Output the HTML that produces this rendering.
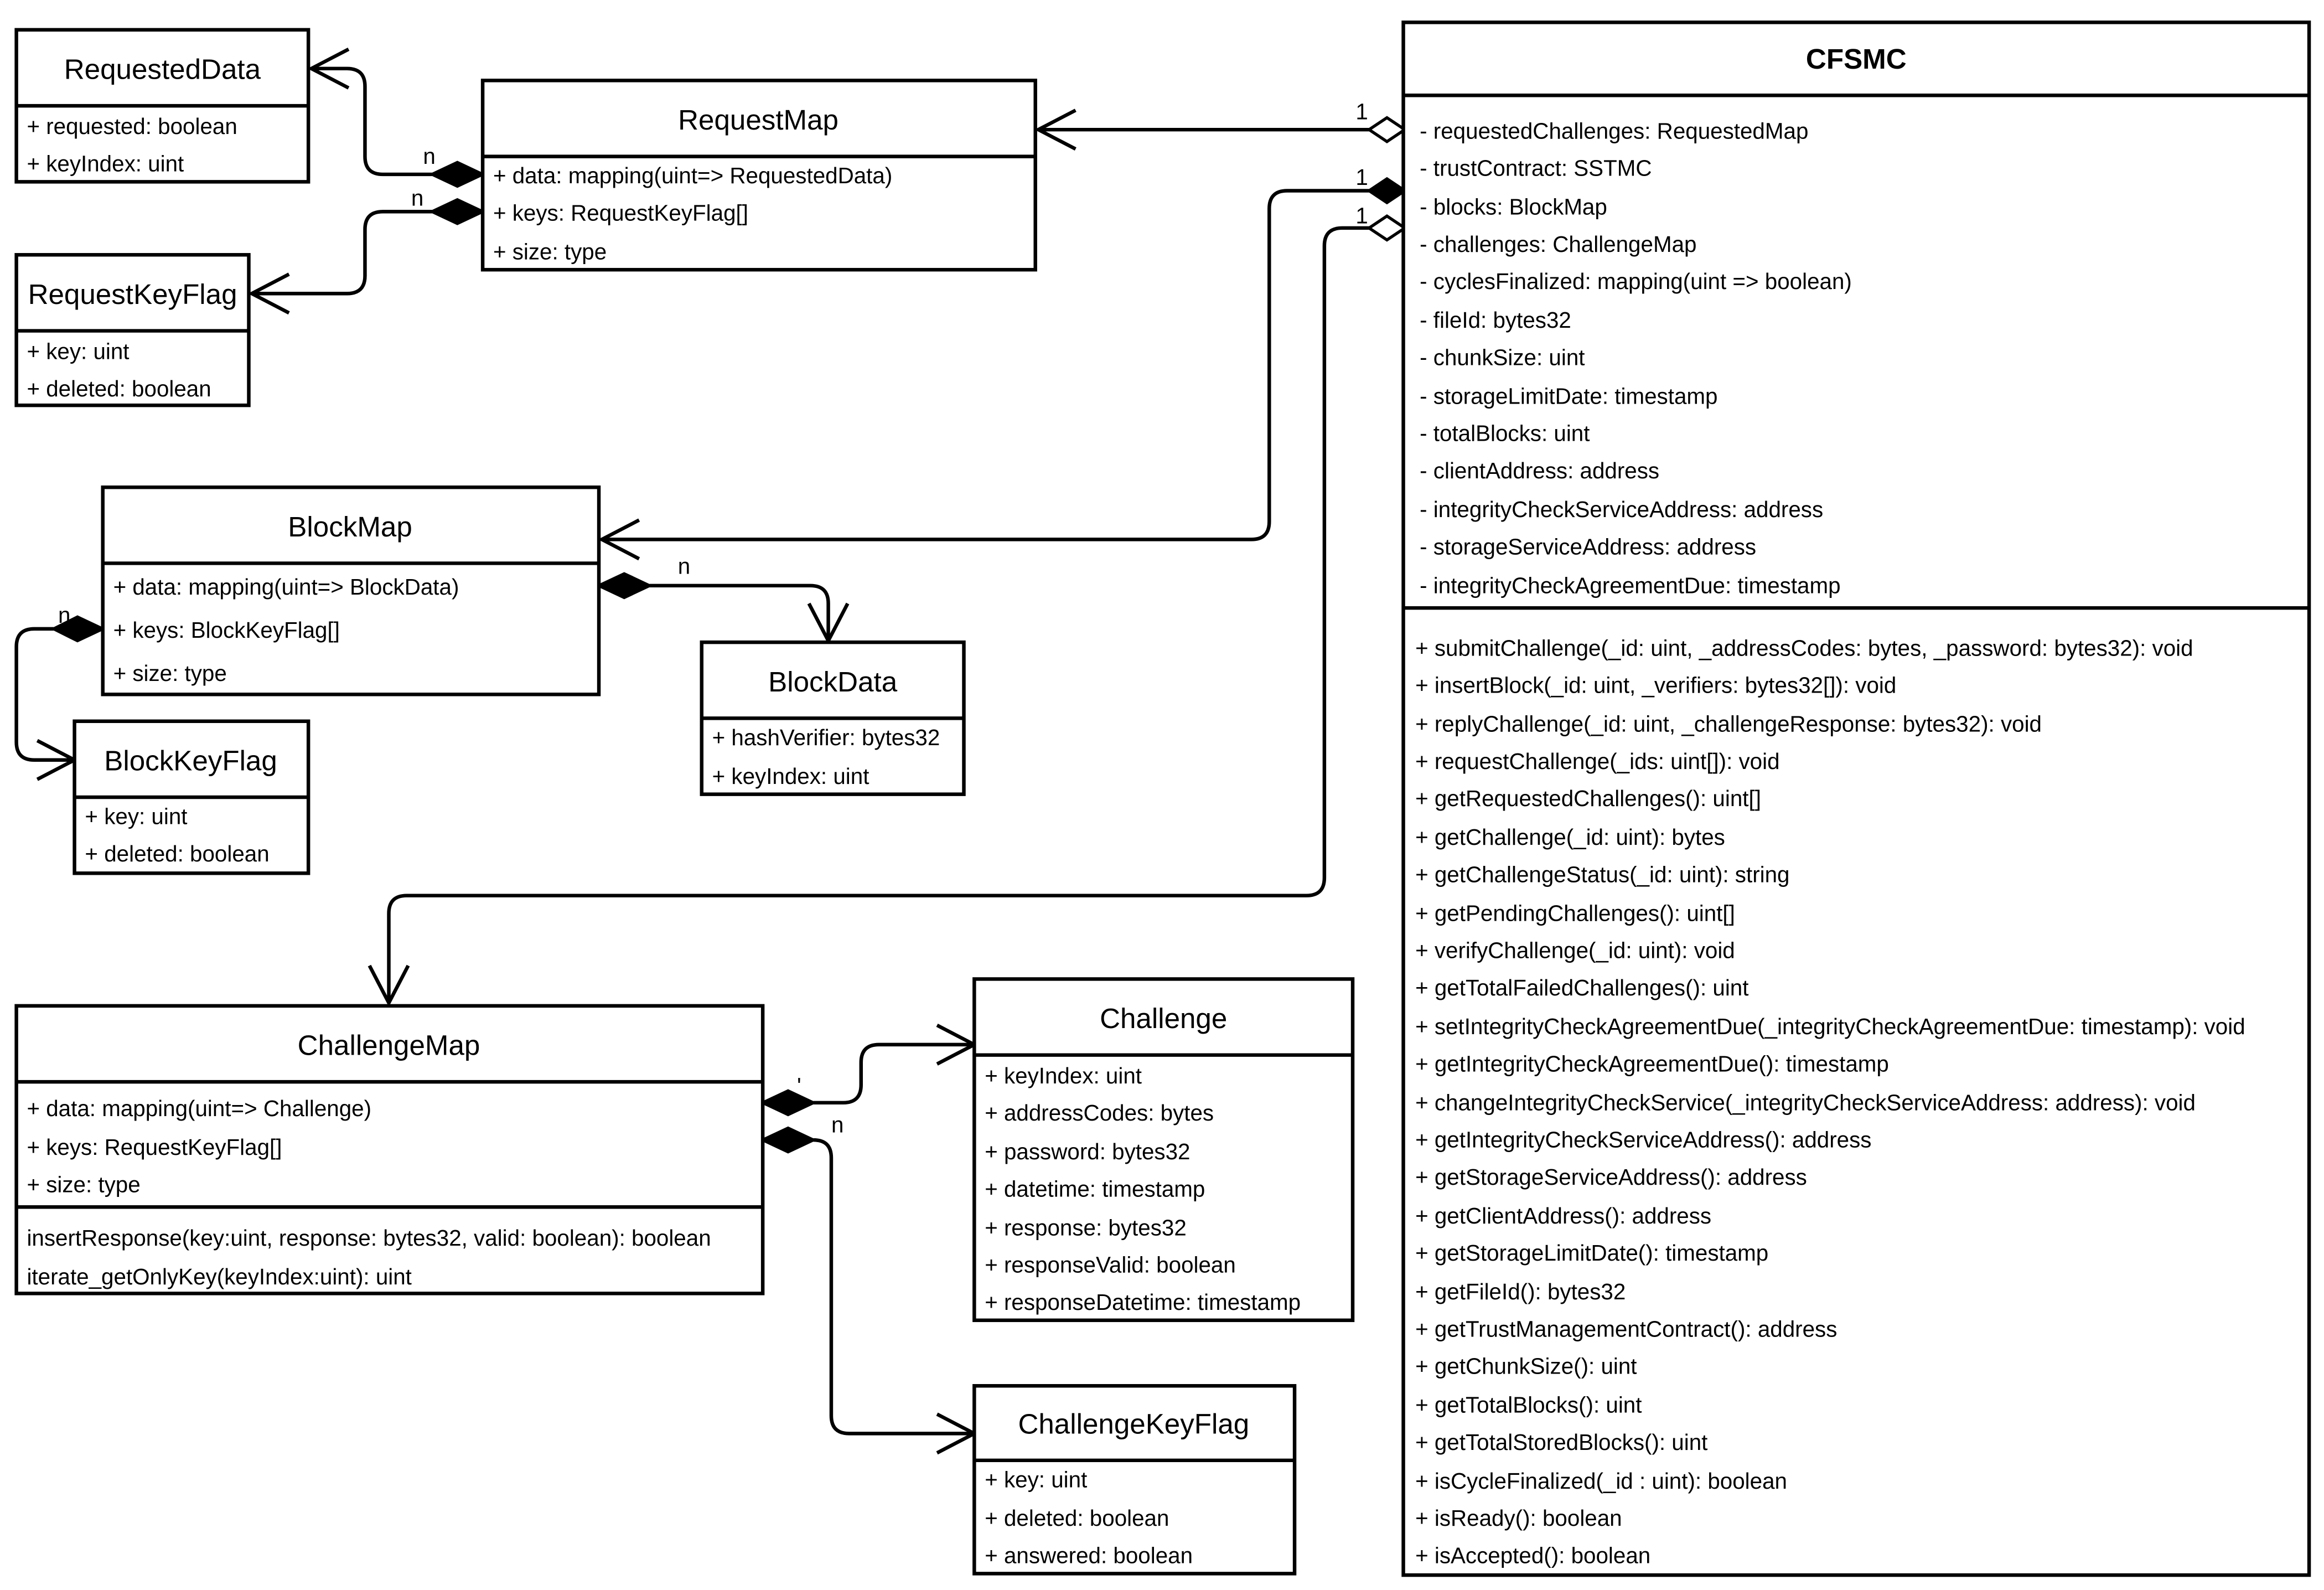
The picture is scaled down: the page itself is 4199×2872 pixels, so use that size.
<!DOCTYPE html>
<html><head><meta charset="utf-8"><style>
html,body{margin:0;padding:0;background:#fff}
svg{display:block}
text{font-family:"Liberation Sans",Arial,sans-serif;fill:#000}
.h{font-size:19px;text-anchor:middle}
.r{font-size:15px}
.b{fill:#fff;stroke:#000;stroke-width:2.4}
.l{stroke:#000;stroke-width:2.4;fill:none}
.fd{fill:#000;stroke:#000;stroke-width:2}
.hd{fill:#fff;stroke:#000;stroke-width:2}
</style></head><body>
<svg width="4199" height="2872" viewBox="0 0 1560 1067" preserveAspectRatio="none" xmlns="http://www.w3.org/2000/svg">
<!-- connectors -->
<path class="l" d="M919,87 H697"/><path class="l" d="M722,74 L697,87 L722,100"/>
<path class="hd" d="M943,87 L931,79 L919,87 L931,95 Z"/><text class="r" x="910" y="80">1</text>

<path class="l" d="M919,128 H864 Q852,128 852,140 V350 Q852,362 840,362 H404"/><path class="l" d="M429,349 L404,362 L429,375"/>
<path class="fd" d="M943,128 L931,120 L919,128 L931,136 Z"/><text class="r" x="910" y="124">1</text>

<path class="l" d="M919,153 H901 Q889,153 889,165 V589 Q889,601 877,601 H273 Q261,601 261,613 V673"/><path class="l" d="M248,648 L261,673 L274,648"/>
<path class="hd" d="M943,153 L931,145 L919,153 L931,161 Z"/><text class="r" x="910" y="150">1</text>

<path class="l" d="M290,117 H257 Q245,117 245,105 V58 Q245,46 233,46 H209"/><path class="l" d="M234,33 L209,46 L234,59"/>
<path class="fd" d="M324,117 L307,109 L290,117 L307,125 Z"/><text class="r" x="284" y="110">n</text>
<path class="l" d="M290,142 H257 Q245,142 245,154 V185 Q245,197 233,197 H169"/><path class="l" d="M194,184 L169,197 L194,210"/>
<path class="fd" d="M324,142 L307,134 L290,142 L307,150 Z"/><text class="r" x="276" y="138">n</text>

<path class="l" d="M436,393 H544 Q556,393 556,405 V430"/><path class="l" d="M543,405 L556,430 L569,405"/>
<path class="fd" d="M402,393 L419,385 L436,393 L419,401 Z"/><text class="r" x="455" y="385">n</text>
<path class="l" d="M36,422 H23 Q11,422 11,434 V498 Q11,510 23,510 H50"/><path class="l" d="M25,497 L50,510 L25,523"/>
<path class="fd" d="M69,422 L52,414 L36,422 L52,430 Z"/><text class="r" x="39" y="418">n</text>

<path class="l" d="M546,740 H566 Q578,740 578,728 V713 Q578,701 590,701 H654"/><path class="l" d="M629,688 L654,701 L629,714"/>
<path class="fd" d="M512,740 L529,732 L546,740 L529,748 Z"/><text class="r" x="535" y="734">'</text>
<path class="l" d="M546,765 H546 Q558,765 558,777 V950 Q558,962 570,962 H654"/><path class="l" d="M629,949 L654,962 L629,975"/>
<path class="fd" d="M512,765 L529,757 L546,765 L529,773 Z"/><text class="r" x="558" y="760">n</text>

<!-- RequestedData -->
<rect class="b" x="11" y="20" width="196" height="102"/><line class="l" x1="11" y1="71" x2="207" y2="71"/>
<text class="h" x="109" y="53">RequestedData</text>
<text class="r" x="18" y="90">+ requested: boolean</text><text class="r" x="18" y="115">+ keyIndex: uint</text>
<!-- RequestMap -->
<rect class="b" x="324" y="54" width="371" height="127"/><line class="l" x1="324" y1="105" x2="695" y2="105"/>
<text class="h" x="509" y="87">RequestMap</text>
<text class="r" x="331" y="123">+ data: mapping(uint=&gt; RequestedData)</text>
<text class="r" x="331" y="148">+ keys: RequestKeyFlag[]</text>
<text class="r" x="331" y="174">+ size: type</text>
<!-- RequestKeyFlag -->
<rect class="b" x="11" y="171" width="156" height="101"/><line class="l" x1="11" y1="222" x2="167" y2="222"/>
<text class="h" x="89" y="204">RequestKeyFlag</text>
<text class="r" x="18" y="241">+ key: uint</text><text class="r" x="18" y="266">+ deleted: boolean</text>
<!-- BlockMap -->
<rect class="b" x="69" y="327" width="333" height="139"/><line class="l" x1="69" y1="378" x2="402" y2="378"/>
<text class="h" x="235" y="360">BlockMap</text>
<text class="r" x="76" y="399">+ data: mapping(uint=&gt; BlockData)</text>
<text class="r" x="76" y="428">+ keys: BlockKeyFlag[]</text>
<text class="r" x="76" y="457">+ size: type</text>
<!-- BlockData -->
<rect class="b" x="471" y="431" width="176" height="102"/><line class="l" x1="471" y1="482" x2="647" y2="482"/>
<text class="h" x="559" y="464">BlockData</text>
<text class="r" x="478" y="500">+ hashVerifier: bytes32</text><text class="r" x="478" y="526">+ keyIndex: uint</text>
<!-- BlockKeyFlag -->
<rect class="b" x="50" y="484" width="157" height="102"/><line class="l" x1="50" y1="535" x2="207" y2="535"/>
<text class="h" x="128" y="517">BlockKeyFlag</text>
<text class="r" x="57" y="553">+ key: uint</text><text class="r" x="57" y="578">+ deleted: boolean</text>
<!-- ChallengeMap -->
<rect class="b" x="11" y="675" width="501" height="193"/><line class="l" x1="11" y1="726" x2="512" y2="726"/><line class="l" x1="11" y1="810" x2="512" y2="810"/>
<text class="h" x="261" y="708">ChallengeMap</text>
<text class="r" x="18" y="749">+ data: mapping(uint=&gt; Challenge)</text>
<text class="r" x="18" y="775">+ keys: RequestKeyFlag[]</text>
<text class="r" x="18" y="800">+ size: type</text>
<text class="r" x="18" y="836">insertResponse(key:uint, response: bytes32, valid: boolean): boolean</text>
<text class="r" x="18" y="862">iterate_getOnlyKey(keyIndex:uint): uint</text>
<!-- Challenge -->
<rect class="b" x="654" y="657" width="254" height="229"/><line class="l" x1="654" y1="708" x2="908" y2="708"/>
<text class="h" x="781" y="690">Challenge</text>
<text class="r" x="661" y="727">+ keyIndex: uint</text>
<text class="r" x="661" y="752">+ addressCodes: bytes</text>
<text class="r" x="661" y="778">+ password: bytes32</text>
<text class="r" x="661" y="803">+ datetime: timestamp</text>
<text class="r" x="661" y="829">+ response: bytes32</text>
<text class="r" x="661" y="854">+ responseValid: boolean</text>
<text class="r" x="661" y="879">+ responseDatetime: timestamp</text>
<!-- ChallengeKeyFlag -->
<rect class="b" x="654" y="930" width="215" height="126"/><line class="l" x1="654" y1="980" x2="869" y2="980"/>
<text class="h" x="761" y="962">ChallengeKeyFlag</text>
<text class="r" x="661" y="998">+ key: uint</text>
<text class="r" x="661" y="1024">+ deleted: boolean</text>
<text class="r" x="661" y="1049">+ answered: boolean</text>
<!-- CFSMC -->
<rect class="b" x="942" y="15" width="608" height="1042"/><line class="l" x1="942" y1="64" x2="1550" y2="64"/><line class="l" x1="942" y1="408" x2="1550" y2="408"/>
<text class="h" x="1246" y="46" style="font-weight:bold">CFSMC</text>
<g class="r">
<text class="r" x="953" y="93">- requestedChallenges: RequestedMap</text>
<text class="r" x="953" y="118">- trustContract: SSTMC</text>
<text class="r" x="953" y="144">- blocks: BlockMap</text>
<text class="r" x="953" y="169">- challenges: ChallengeMap</text>
<text class="r" x="953" y="194">- cyclesFinalized: mapping(uint =&gt; boolean)</text>
<text class="r" x="953" y="220">- fileId: bytes32</text>
<text class="r" x="953" y="245">- chunkSize: uint</text>
<text class="r" x="953" y="271">- storageLimitDate: timestamp</text>
<text class="r" x="953" y="296">- totalBlocks: uint</text>
<text class="r" x="953" y="321">- clientAddress: address</text>
<text class="r" x="953" y="347">- integrityCheckServiceAddress: address</text>
<text class="r" x="953" y="372">- storageServiceAddress: address</text>
<text class="r" x="953" y="398">- integrityCheckAgreementDue: timestamp</text>
<text class="r" x="950" y="440">+ submitChallenge(_id: uint, _addressCodes: bytes, _password: bytes32): void</text>
<text class="r" x="950" y="465">+ insertBlock(_id: uint, _verifiers: bytes32[]): void</text>
<text class="r" x="950" y="491">+ replyChallenge(_id: uint, _challengeResponse: bytes32): void</text>
<text class="r" x="950" y="516">+ requestChallenge(_ids: uint[]): void</text>
<text class="r" x="950" y="541">+ getRequestedChallenges(): uint[]</text>
<text class="r" x="950" y="567">+ getChallenge(_id: uint): bytes</text>
<text class="r" x="950" y="592">+ getChallengeStatus(_id: uint): string</text>
<text class="r" x="950" y="618">+ getPendingChallenges(): uint[]</text>
<text class="r" x="950" y="643">+ verifyChallenge(_id: uint): void</text>
<text class="r" x="950" y="668">+ getTotalFailedChallenges(): uint</text>
<text class="r" x="950" y="694">+ setIntegrityCheckAgreementDue(_integrityCheckAgreementDue: timestamp): void</text>
<text class="r" x="950" y="719">+ getIntegrityCheckAgreementDue(): timestamp</text>
<text class="r" x="950" y="745">+ changeIntegrityCheckService(_integrityCheckServiceAddress: address): void</text>
<text class="r" x="950" y="770">+ getIntegrityCheckServiceAddress(): address</text>
<text class="r" x="950" y="795">+ getStorageServiceAddress(): address</text>
<text class="r" x="950" y="821">+ getClientAddress(): address</text>
<text class="r" x="950" y="846">+ getStorageLimitDate(): timestamp</text>
<text class="r" x="950" y="872">+ getFileId(): bytes32</text>
<text class="r" x="950" y="897">+ getTrustManagementContract(): address</text>
<text class="r" x="950" y="922">+ getChunkSize(): uint</text>
<text class="r" x="950" y="948">+ getTotalBlocks(): uint</text>
<text class="r" x="950" y="973">+ getTotalStoredBlocks(): uint</text>
<text class="r" x="950" y="999">+ isCycleFinalized(_id : uint): boolean</text>
<text class="r" x="950" y="1024">+ isReady(): boolean</text>
<text class="r" x="950" y="1049">+ isAccepted(): boolean</text>
</g>
</svg>
</body></html>
